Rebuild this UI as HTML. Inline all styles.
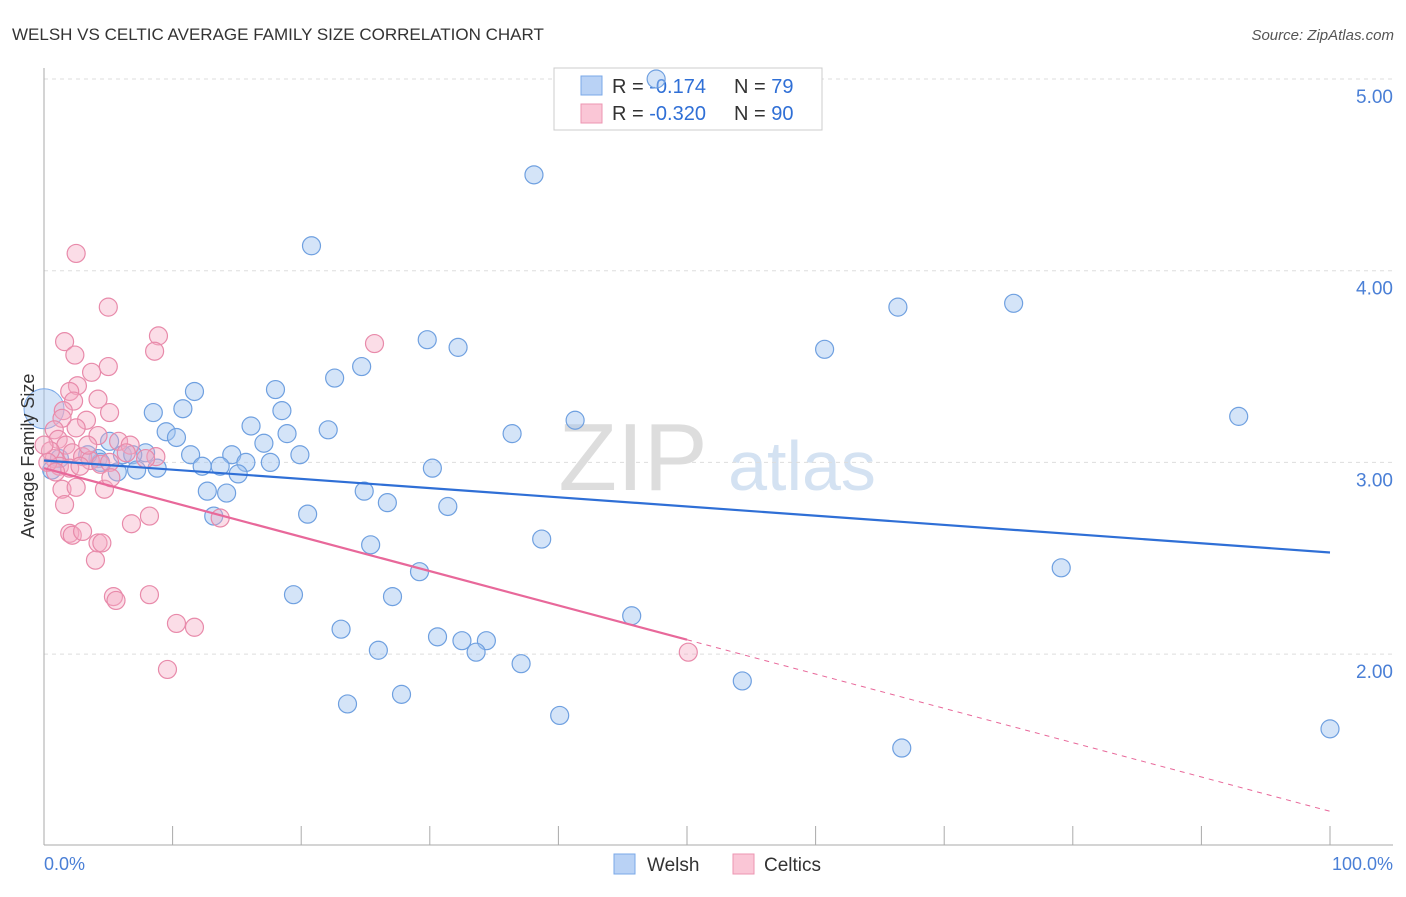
<!DOCTYPE html>
<html><head><meta charset="utf-8"><style>
body{margin:0;background:#fff;font-family:"Liberation Sans",sans-serif}
svg text{font-family:"Liberation Sans",sans-serif}
</style></head><body>
<svg id="c" width="1406" height="892" xmlns="http://www.w3.org/2000/svg">
<text x="12" y="40" font-size="17" fill="#333">WELSH VS CELTIC AVERAGE FAMILY SIZE CORRELATION CHART</text>
<text x="1394" y="40" font-size="15" fill="#555" font-style="italic" text-anchor="end">Source: ZipAtlas.com</text>
<text x="633" y="490" font-size="96" fill="#ddd" font-family="Liberation Serif" text-anchor="middle">ZIP</text>
<text x="802" y="490" font-size="70" fill="#d4e2f2" text-anchor="middle">atlas</text>
<g id="grid"></g>
<g id="axes"></g>
<g>
<rect x="554" y="68" width="268" height="62" fill="#fff" stroke="#ccc"/>
<rect x="581" y="76" width="21" height="19" fill="#b9d2f5" stroke="#7aa8e8"/>
<rect x="581" y="104" width="21" height="19" fill="#fac6d6" stroke="#ec95b2"/>
<text x="612" y="93" font-size="20" fill="#333">R = <tspan fill="#2f6fd6">-0.174</tspan><tspan x="734">N = </tspan><tspan fill="#2f6fd6">79</tspan></text>
<text x="612" y="120" font-size="20" fill="#333">R = <tspan fill="#2f6fd6">-0.320</tspan><tspan x="734">N = </tspan><tspan fill="#2f6fd6">90</tspan></text>
</g>
<g id="pts"></g>
<g id="trend"></g>
<text transform="translate(34,456) rotate(-90)" font-size="18" fill="#333" text-anchor="middle">Average Family Size</text>
<text x="44" y="870" font-size="18" fill="#4a7fd6">0.0%</text>
<text x="1393" y="870" font-size="18" fill="#4a7fd6" text-anchor="end">100.0%</text>
<g>
<rect x="614" y="854" width="21" height="20" fill="#b9d2f5" stroke="#7aa8e8"/>
<text x="647" y="871" font-size="19" fill="#333">Welsh</text>
<rect x="733" y="854" width="21" height="20" fill="#fac6d6" stroke="#ec95b2"/>
<text x="764" y="871" font-size="19" fill="#333">Celtics</text>
</g>
</svg>
<script>
const yTicks=[5,4,3,2];
const yTickLabels=["5.00","4.00","3.00","2.00"];
const xTicks=[0,10,20,30,40,50,60,70,80,90,100];
const welshX=[47.6,38.1,20.8,29.8,32.2,60.7,66.4,75.4,24.7,22.6,18.0,11.7,8.5,10.8,18.5,41.3,92.9,16.1,9.5,10.3,18.9,22.1,36.4,5.1,17.1,7.9,11.4,14.6,19.9,6.1,6.9,4.2,15.7,17.6,12.3,13.7,30.2,8.8,7.2,5.7,15.1,12.7,14.2,24.9,26.7,31.4,20.5,13.2,38.7,25.4,29.2,79.1,19.4,27.1,45.7,23.1,30.6,32.5,34.4,33.6,26.0,37.1,54.3,27.8,23.6,40.1,66.7,100,4.4,3.4,1.2,0.6];
const welshY=[5.00,4.50,4.13,3.64,3.60,3.59,3.81,3.83,3.50,3.44,3.38,3.37,3.26,3.28,3.27,3.22,3.24,3.19,3.16,3.13,3.15,3.17,3.15,3.11,3.10,3.05,3.04,3.04,3.04,3.04,3.04,3.02,3.00,3.00,2.98,2.98,2.97,2.97,2.96,2.95,2.94,2.85,2.84,2.85,2.79,2.77,2.73,2.72,2.60,2.57,2.43,2.45,2.31,2.30,2.20,2.13,2.09,2.07,2.07,2.01,2.02,1.95,1.86,1.79,1.74,1.68,1.51,1.61,3.00,3.04,3.02,2.96];
const celticX=[2.5,5.0,8.9,8.6,25.7,1.6,2.4,3.7,5.0,2.6,2.0,4.2,5.1,2.3,1.5,3.3,2.5,4.2,5.8,6.7,1.4,0.8,1.1,1.7,2.2,3.0,3.6,4.4,0.8,1.2,2.0,0.5,2.8,5.1,6.4,8.7,7.9,4.7,5.2,1.4,1.6,2.5,2.0,2.2,3.0,4.2,4.5,4.0,6.8,8.2,13.7,5.4,5.6,8.2,10.3,11.7,9.6,50.1,0,0.3,0.9,3.4];
const celticY=[4.09,3.81,3.66,3.58,3.62,3.63,3.56,3.47,3.50,3.40,3.37,3.33,3.26,3.32,3.27,3.22,3.18,3.14,3.11,3.09,3.23,3.17,3.12,3.09,3.05,3.03,3.01,2.99,3.02,2.98,2.97,3.06,2.98,3.00,3.05,3.03,3.02,2.86,2.92,2.86,2.78,2.87,2.63,2.62,2.64,2.58,2.58,2.49,2.68,2.72,2.71,2.30,2.28,2.31,2.16,2.14,1.92,2.01,3.09,3.00,2.95,3.09];
const welshTrend=[3.01,2.53];
const celticTrend=[2.97,1.18];
const NS="http://www.w3.org/2000/svg";
const X=v=>44+v*12.86;
const Y=v=>79+(5-v)*191.7;
function mk(tag,attrs,parent){const e=document.createElementNS(NS,tag);for(const k in attrs)e.setAttribute(k,attrs[k]);document.getElementById(parent).appendChild(e);return e;}
yTicks.forEach((t,i)=>{
  const g=mk('line',{x1:44,x2:1393,y1:Y(t),y2:Y(t),stroke:'#ddd','stroke-dasharray':'4,4'},'grid');
  
  
  const l=mk('text',{x:1393,y:Y(t)+24,'font-size':19,fill:'#4a7fd6','text-anchor':'end'},'grid');
  l.textContent=yTickLabels[i];
  
  
});
const ya=mk('line',{x1:44,x2:44,y1:68,y2:845,stroke:'#aaa'},'axes');


const xa=mk('line',{x1:44,x2:1393,y1:845,y2:845,stroke:'#aaa'},'axes');


xTicks.forEach(t=>{
  const k=mk('line',{x1:X(t),x2:X(t),y1:826,y2:845,stroke:'#aaa'},'axes');
  
  
});
const big=mk('circle',{cx:X(0),cy:Y(3.28),r:20,fill:'rgba(160,195,240,0.45)',stroke:'#7aa8e8'},'pts');


welshX.forEach((x,i)=>{
  const c=mk('circle',{cx:X(x),cy:Y(welshY[i]),r:9,fill:'rgba(160,195,240,0.45)',stroke:'#6fa0e0','stroke-width':1.2},'pts');
  
  
});
celticX.forEach((x,i)=>{
  const c=mk('circle',{cx:X(x),cy:Y(celticY[i]),r:9,fill:'rgba(245,170,195,0.4)',stroke:'#e88aaa','stroke-width':1.2},'pts');
  
  
});
const wl=mk('line',{x1:X(0),y1:Y(welshTrend[0]),x2:X(100),y2:Y(welshTrend[1]),stroke:'#2f6fd6','stroke-width':2.2},'trend');


const cm=celticTrend[0]+(celticTrend[1]-celticTrend[0])*0.5;
const cl=mk('line',{x1:X(0),y1:Y(celticTrend[0]),x2:X(50),y2:Y(cm),stroke:'#e8689a','stroke-width':2.2},'trend');


const cd=mk('line',{x1:X(50),y1:Y(cm),x2:X(100),y2:Y(celticTrend[1]),stroke:'#e8689a','stroke-width':1,'stroke-dasharray':'5,5'},'trend');


</script>
</body></html>
